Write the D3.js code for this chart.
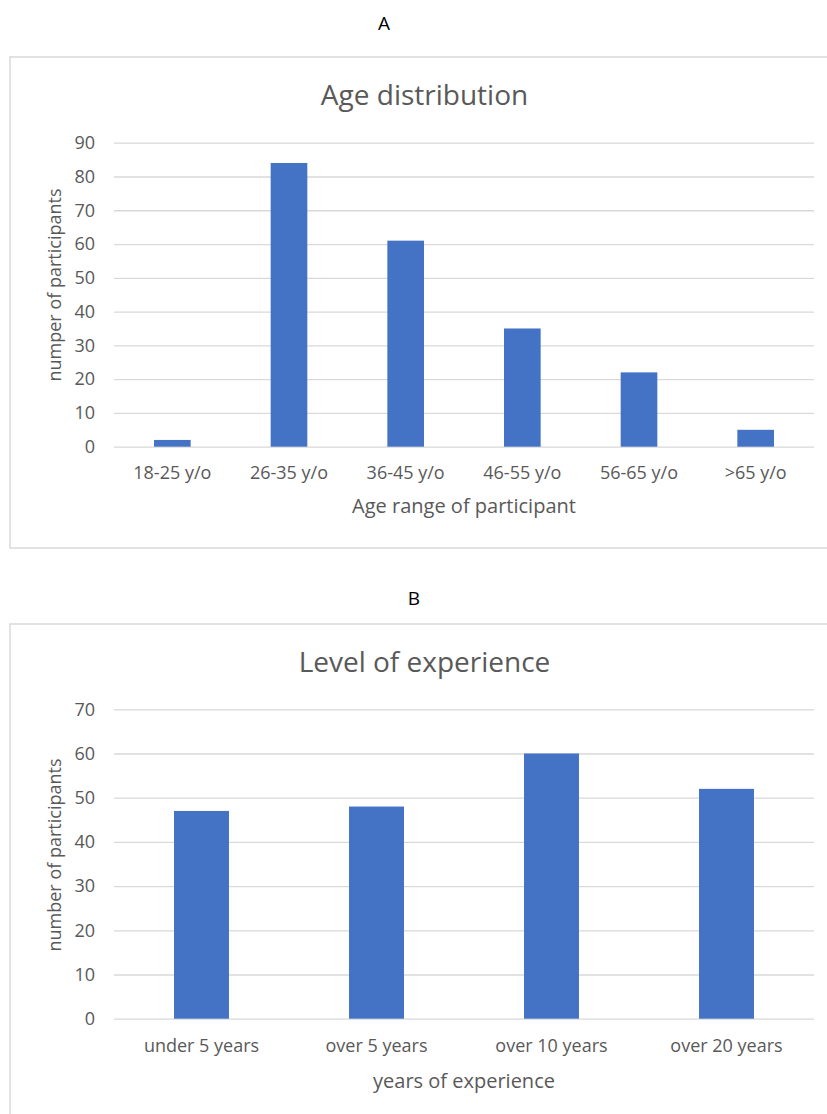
<!DOCTYPE html>
<html><head><meta charset="utf-8">
<script src="https://cdn.jsdelivr.net/npm/d3@7"></script>
<style>body{margin:0;background:#fff}svg{display:block}text{font-family:"Open Sans",sans-serif}</style>
</head><body>
<svg id="c" width="827" height="1114"></svg>
<script>
const ageCategories = ["18-25 y/o","26-35 y/o","36-45 y/o","46-55 y/o","56-65 y/o",">65 y/o"];
const ageValues = [2,84,61,35,22,5];
const ageTicks = [0,10,20,30,40,50,60,70,80,90];
const expCategories = ["under 5 years","over 5 years","over 10 years","over 20 years"];
const expValues = [47,48,60,52];
const expTicks = [0,10,20,30,40,50,60,70];

const svg = d3.select("#c");
const grey = "#595959", grid = "#d9d9d9", bar = "#4472c4";

function panel(o){
  svg.append("text").attr("x",o.letterX).attr("y",o.letterY).attr("text-anchor","middle")
    .attr("font-size",19).attr("fill","#000").text(o.letter);
  svg.append("rect").attr("x",10).attr("y",o.boxTop).attr("width",840).attr("height",o.boxH)
    .attr("fill","none").attr("stroke",grid).attr("stroke-width",1.5);
  svg.append("text").attr("x",424.5).attr("y",o.titleY).attr("text-anchor","middle")
    .attr("font-size",28).attr("fill",grey).text(o.title);
  const x = d3.scaleBand().domain(o.cats).range([114,814]).paddingInner(0.686).paddingOuter(0.343);
  const y = d3.scaleLinear().domain([0,o.max]).range([o.y0,o.yTop]);
  const ya = d3.axisLeft(y).tickValues(o.ticks).tickSize(-700).tickPadding(19);
  const gy = svg.append("g").attr("transform","translate(114,0)").call(ya);
  gy.select(".domain").remove();
  gy.selectAll("line").attr("stroke",grid).attr("stroke-width",1.3);
  gy.selectAll("text").attr("font-size",18).attr("fill",grey).attr("font-family","Open Sans");
  svg.append("g").selectAll("rect").data(o.vals).join("rect")
    .attr("x",(d,i)=>x(o.cats[i])).attr("width",x.bandwidth())
    .attr("y",d=>y(d)).attr("height",d=>y(0)-y(d)).attr("fill",bar);
  const xa = d3.axisBottom(x).tickSize(0).tickPadding(0);
  const gx = svg.append("g").attr("transform",`translate(0,${o.y0})`).call(xa);
  gx.select(".domain").remove();
  gx.selectAll("text").attr("font-size",18).attr("fill",grey).attr("font-family","Open Sans")
    .attr("dy",null).attr("y",o.xTickBase-o.y0);
  svg.append("text").attr("x",464).attr("y",o.xTitleY).attr("text-anchor","middle")
    .attr("font-size",20).attr("fill",grey).text(o.xTitle);
  svg.append("text").attr("transform",`translate(${o.yTitleX},${o.yTitleY}) rotate(-90)`)
    .attr("text-anchor","middle").attr("font-size",18).attr("fill",grey).text(o.yTitle);
}

panel({letter:"A",letterX:384,letterY:30,boxTop:57,boxH:491,title:"Age distribution",titleY:105,
  cats:ageCategories,vals:ageValues,ticks:ageTicks,max:90,y0:446.7,yTop:142.7,
  xTickBase:479,xTitleY:513,xTitle:"Age range of participant",
  yTitleX:61,yTitleY:285,yTitle:"numper of participants"});
panel({letter:"B",letterX:414,letterY:605,boxTop:624,boxH:600,title:"Level of experience",titleY:672,
  cats:expCategories,vals:expValues,ticks:expTicks,max:70,y0:1018.7,yTop:709.3,
  xTickBase:1052,xTitleY:1088,xTitle:"years of experience",
  yTitleX:61,yTitleY:855,yTitle:"number of participants"});
</script>
</body></html>
